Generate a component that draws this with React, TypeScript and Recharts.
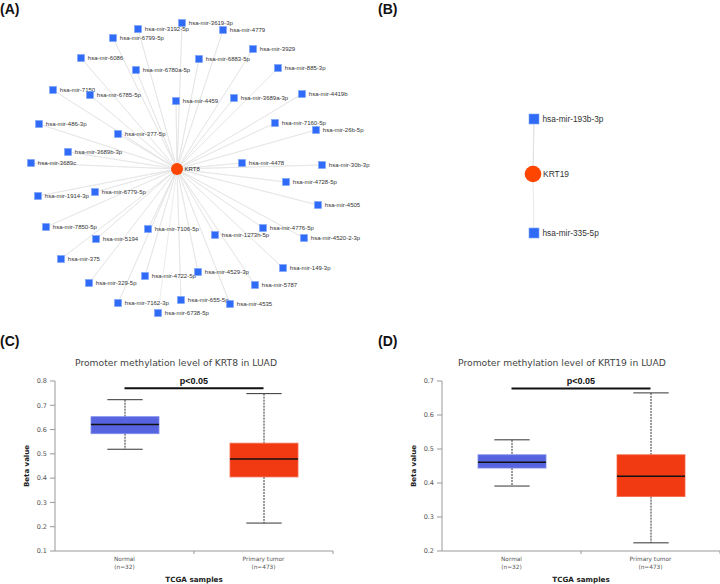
import React from 'react';
import {
  ScatterChart, Scatter, XAxis, YAxis, BarChart, Bar, ReferenceLine,
} from 'recharts';

// ---------- Panel A: KRT8 – miRNA network (layout coordinates) ----------
const krt8Center = { name: 'KRT8', x: 177, y: 169 };
const krt8MirNames = [
  'hsa-mir-3619-3p', 'hsa-mir-3192-5p', 'hsa-mir-4779', 'hsa-mir-6799-5p', 'hsa-mir-3929',
  'hsa-mir-6086', 'hsa-mir-6883-5p', 'hsa-mir-6780a-5p', 'hsa-mir-885-3p', 'hsa-mir-7150',
  'hsa-mir-6785-5p', 'hsa-mir-4459', 'hsa-mir-3689a-3p', 'hsa-mir-4419b', 'hsa-mir-486-3p',
  'hsa-mir-377-5p', 'hsa-mir-7160-5p', 'hsa-mir-26b-5p', 'hsa-mir-3689b-3p', 'hsa-mir-3689c',
  'hsa-mir-4478', 'hsa-mir-30b-3p', 'hsa-mir-4728-5p', 'hsa-mir-1914-3p', 'hsa-mir-6779-5p',
  'hsa-mir-4505', 'hsa-mir-7850-5p', 'hsa-mir-7106-5p', 'hsa-mir-4776-5p', 'hsa-mir-5194',
  'hsa-mir-1273h-5p', 'hsa-mir-4520-2-3p', 'hsa-mir-375', 'hsa-mir-149-3p', 'hsa-mir-4722-5p',
  'hsa-mir-4529-3p', 'hsa-mir-329-5p', 'hsa-mir-5787', 'hsa-mir-7162-3p', 'hsa-mir-655-5p',
  'hsa-mir-4535', 'hsa-mir-6738-5p',
];
const krt8MirX = [
  182, 138, 223, 113, 253, 81, 199, 136, 278, 53,
  90, 176, 234, 302, 39, 118, 275, 316, 68, 31,
  242, 322, 286, 38, 95, 318, 46, 148, 263, 96,
  215, 304, 61, 283, 145, 198, 89, 255, 118, 181,
  230, 158,
];
const krt8MirY = [
  23, 29, 30, 38, 49, 58, 59, 70, 68, 90,
  95, 101, 98, 94, 124, 134, 123, 130, 152, 163,
  163, 165, 182, 196, 192, 205, 227, 229, 228, 239,
  235, 238, 259, 268, 276, 272, 283, 285, 303, 300,
  304, 313,
];

// ---------- Panel B: KRT19 – miRNA network ----------
const krt19Center = { name: 'KRT19', x: 173, y: 174 };
const krt19MirNames = ['hsa-mir-193b-3p', 'hsa-mir-335-5p'];
const krt19MirX = [174, 174];
const krt19MirY = [119, 233];

// ---------- Panels C & D: promoter methylation box plots ----------
const boxCategories = ['Normal', 'Primary tumor'];
const boxSampleCounts = ['(n=32)', '(n=473)'];

const krt8Min = [0.519, 0.215];
const krt8Q1 = [0.583, 0.405];
const krt8Median = [0.621, 0.479];
const krt8Q3 = [0.653, 0.544];
const krt8Max = [0.723, 0.748];
const krt8Ticks = [0.1, 0.2, 0.3, 0.4, 0.5, 0.6, 0.7, 0.8];
const krt8SigLevel = 0.77;

const krt19Min = [0.391, 0.224];
const krt19Q1 = [0.444, 0.360];
const krt19Median = [0.461, 0.420];
const krt19Q3 = [0.483, 0.483];
const krt19Max = [0.527, 0.665];
const krt19Ticks = [0.2, 0.3, 0.4, 0.5, 0.6, 0.7];
const krt19SigLevel = 0.678;

const boxColors = ['#5664E0', '#F23A12'];
const boxStrokes = ['#7F8AEC', '#F56A4A'];

const NODE_BLUE = '#2F6BF6';
const HUB_RED = '#FF4500';
const ARIAL = '"Liberation Sans", Arial, sans-serif';
const DEJAVU = '"DejaVu Sans", Verdana, sans-serif';

type Node = { name: string; x: number; y: number };

const buildNodes = (names: string[], xs: number[], ys: number[]): Node[] =>
  names.map((name, i) => ({ name, x: xs[i], y: ys[i] }));

const starPath = (center: Node, nodes: Node[]) =>
  nodes.flatMap((n) => [center, n]);

const makeSquare = (size: number, fontSize: number, gap: number) => (props: any) => {
  const { cx, cy, payload } = props;
  if (cx == null || cy == null) return <g />;
  return (
    <g>
      <rect x={cx - size / 2} y={cy - size / 2} width={size} height={size}
        fill={NODE_BLUE} stroke="#7ea3f8" strokeWidth={0.6} />
      <text x={cx + size / 2 + gap} y={cy} dominantBaseline="central"
        fontSize={fontSize} fontFamily={ARIAL} fill="#333">{payload.name}</text>
    </g>
  );
};

const makeHub = (r: number, fontSize: number, gap: number) => (props: any) => {
  const { cx, cy, payload } = props;
  if (cx == null || cy == null) return <g />;
  return (
    <g>
      <circle cx={cx} cy={cy} r={r} fill={HUB_RED} />
      <text x={cx + r + gap} y={cy} dominantBaseline="central"
        fontSize={fontSize} fontFamily={ARIAL} fill="#333">{payload.name}</text>
    </g>
  );
};

const NoShape = () => <g />;

function Network({ center, nodes, sq, font, gap, hubR, hubFont, hubGap, edge, width }: any) {
  return (
    <ScatterChart width={width} height={320} margin={{ top: 0, right: 0, bottom: 0, left: 0 }}>
      <XAxis type="number" dataKey="x" domain={[0, width]} hide />
      <YAxis type="number" dataKey="y" domain={[0, 320]} reversed hide />
      <Scatter data={starPath(center, nodes)} line={{ stroke: edge, strokeWidth: 0.7 }}
        lineType="joint" shape={NoShape} isAnimationActive={false} />
      <Scatter data={nodes} shape={makeSquare(sq, font, gap)} isAnimationActive={false} />
      <Scatter data={[center]} shape={makeHub(hubR, hubFont, hubGap)} isAnimationActive={false} />
    </ScatterChart>
  );
}

const buildBoxData = (mins: number[], q1: number[], med: number[], q3: number[], maxs: number[]) =>
  boxCategories.map((name, i) => ({
    name, n: boxSampleCounts[i], min: mins[i], q1: q1[i], median: med[i], q3: q3[i], max: maxs[i], idx: i,
  }));

const BoxShape = (props: any) => {
  const { x, y, width, height, payload } = props;
  if (x == null || y == null) return <g />;
  const { min, max, q1, q3, median, idx } = payload;
  const pix = (v: number) => y + (height * (max - v)) / (max - min);
  const cx = x + width / 2;
  const capW = width * 0.52;
  return (
    <g>
      <line x1={cx} x2={cx} y1={pix(max)} y2={pix(q3)} stroke="#333" strokeWidth={1} strokeDasharray="2 1" />
      <line x1={cx} x2={cx} y1={pix(q1)} y2={pix(min)} stroke="#333" strokeWidth={1} strokeDasharray="2 1" />
      <line x1={cx - capW / 2} x2={cx + capW / 2} y1={pix(max)} y2={pix(max)} stroke="#333" strokeWidth={1} />
      <line x1={cx - capW / 2} x2={cx + capW / 2} y1={pix(min)} y2={pix(min)} stroke="#333" strokeWidth={1} />
      <rect x={x} y={pix(q3)} width={width} height={pix(q1) - pix(q3)}
        fill={boxColors[idx]} stroke={boxStrokes[idx]} strokeWidth={0.8} />
      <line x1={x} x2={x + width} y1={pix(median)} y2={pix(median)} stroke="#111" strokeWidth={1.6} />
    </g>
  );
};

function BoxPanel({ data, ticks, sig, title, yWidth, titleX }: any) {
  const W = 360;
  const H = 254;
  const top = 51;
  const plotBottom = 221;
  const plotW = W - yWidth - (yWidth === 55 ? 27 : 0);
  const bw = plotW / 2;
  const rightMargin = W - yWidth - plotW;
  const XTick = (p: any) => {
    const { x, y, index } = p;
    const d = data[index];
    return (
      <g>
        <line x1={x + bw / 2} x2={x + bw / 2} y1={y} y2={y + 3} stroke="#999" />
        <text x={x} y={y + 10} textAnchor="middle" fontSize={5.8} fontFamily={DEJAVU} fill="#555">{d.name}</text>
        <text x={x} y={y + 18} textAnchor="middle" fontSize={5.8} fontFamily={DEJAVU} fill="#555">{d.n}</text>
      </g>
    );
  };
  return (
    <BarChart width={W} height={H} data={data}
      margin={{ top, right: rightMargin, bottom: H - plotBottom - 30, left: 0 }} barSize={68}>
      <XAxis dataKey="name" type="category" height={30} tick={XTick} tickLine={false}
        tickSize={0} tickMargin={0} axisLine={{ stroke: '#999' }} interval={0} />
      <YAxis type="number" domain={[ticks[0], ticks[ticks.length - 1]]} ticks={ticks} width={yWidth}
        tickFormatter={(v: number) => v.toFixed(1)} axisLine={{ stroke: '#999' }}
        tickLine={{ stroke: '#999' }} tickSize={5} tickMargin={3}
        tick={{ fontSize: 6.5, fontFamily: DEJAVU, fill: '#555' }} />
      <Bar dataKey={(d: any) => [d.min, d.max]} shape={BoxShape} isAnimationActive={false} />
      <ReferenceLine segment={[{ x: boxCategories[0], y: sig }, { x: boxCategories[1], y: sig }]}
        stroke="#111" strokeWidth={2}
        label={{ value: 'p<0.05', position: 'top', offset: 4, fontSize: 9, fontWeight: 'bold', fontFamily: ARIAL, fill: '#111' }} />
      <text x={titleX} y={36} textAnchor="middle" fontSize={9.2} fontFamily={DEJAVU} fill="#444">{title}</text>
      <text x={yWidth + plotW / 2} y={252} textAnchor="middle" fontSize={7.2} fontWeight="bold" fontFamily={DEJAVU} fill="#222">TCGA samples</text>
      <text x={yWidth - 26} y={(top + plotBottom) / 2} textAnchor="middle" fontSize={7} fontWeight="bold"
        fontFamily={DEJAVU} fill="#222" transform={`rotate(-90 ${yWidth - 26} ${(top + plotBottom) / 2})`}>Beta value</text>
    </BarChart>
  );
}

const panelLabel: React.CSSProperties = {
  position: 'absolute', fontFamily: ARIAL, fontWeight: 'bold', fontSize: 14, lineHeight: '16px', color: '#111',
};

export default function App() {
  const nodesA = buildNodes(krt8MirNames, krt8MirX, krt8MirY);
  const nodesB = buildNodes(krt19MirNames, krt19MirX, krt19MirY);
  const dataC = buildBoxData(krt8Min, krt8Q1, krt8Median, krt8Q3, krt8Max);
  const dataD = buildBoxData(krt19Min, krt19Q1, krt19Median, krt19Q3, krt19Max);
  return (
    <div style={{ position: 'absolute', left: 0, top: 0, width: 720, height: 584, background: '#fff', overflow: 'hidden' }}>
      <div style={{ position: 'absolute', left: 360, top: 0 }}>
        <Network center={krt19Center} nodes={nodesB} sq={10} font={8.3} gap={3.5} hubR={8.3} hubFont={8.4} hubGap={1.8} edge="#dcdcdc" width={360} />
      </div>
      <div style={{ position: 'absolute', left: 0, top: 0 }}>
        <Network center={krt8Center} nodes={nodesA} sq={7} font={6} gap={3.3} hubR={6} hubFont={6} hubGap={1.5} edge="#e4e4e4" width={380} />
      </div>
      <div style={{ position: 'absolute', left: 0, top: 330 }}>
        <BoxPanel data={dataC} ticks={krt8Ticks} sig={krt8SigLevel} yWidth={55} titleX={176}
          title="Promoter methylation level of KRT8 in LUAD" />
      </div>
      <div style={{ position: 'absolute', left: 360, top: 330 }}>
        <BoxPanel data={dataD} ticks={krt19Ticks} sig={krt19SigLevel} yWidth={82} titleX={202}
          title="Promoter methylation level of KRT19 in LUAD" />
      </div>
      <div style={{ ...panelLabel, left: 0, top: 1 }}>(A)</div>
      <div style={{ ...panelLabel, left: 378, top: 1 }}>(B)</div>
      <div style={{ ...panelLabel, left: 0, top: 333 }}>(C)</div>
      <div style={{ ...panelLabel, left: 378, top: 333 }}>(D)</div>
    </div>
  );
}
